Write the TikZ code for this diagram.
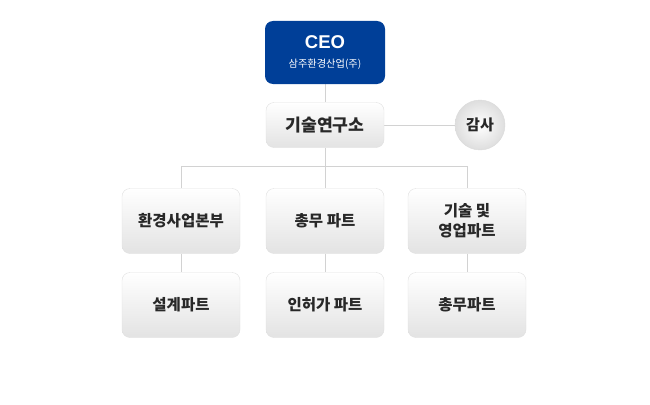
\documentclass[tikz,border=0pt]{standalone}
\usepackage{fontspec}
\newfontfamily\kr{Noto Sans CJK KR}
\setmainfont{Liberation Sans}
\definecolor{ceoblue}{RGB}{0,63,152}
\definecolor{linegray}{RGB}{210,210,210}
\definecolor{txtgray}{RGB}{40,40,40}
\usetikzlibrary{backgrounds}

\begin{document}
\begin{tikzpicture}[x=1pt,y=-1pt,
    box/.style={rounded corners=8pt,draw=black!12,top color=white,bottom color=black!11,
      minimum width=118pt,minimum height=65pt,align=center,text=txtgray,
      font=\kr\bfseries\fontsize{15.5}{20}\selectfont},
    wire/.style={linegray,line width=0.8pt}]
    \useasboundingbox (0,0) rectangle (650,404);
    \node[rounded corners=8pt,fill=ceoblue,minimum width=120pt,minimum height=63pt,
      text=white,align=center,inner sep=0pt] (ceo) at (325,52.5)
      {{\bfseries\fontsize{18.5}{20}\selectfont CEO}\\[7pt]{\kr\fontsize{10.2}{11}\selectfont 삼주환경산업(주)}};
    \node[box,minimum height=45pt,font=\kr\bfseries\fontsize{17.2}{20}\selectfont] (lab) at (325,125) {기술연구소};
    \node[circle,draw=black!14,inner color=white,outer color=black!13,minimum size=50pt,
      inner sep=0pt,text=txtgray,font=\kr\bfseries\fontsize{15}{17}\selectfont] (audit) at (480,125) {감사};
    % 본부 / 파트
    \node[box] (env) at (181,221) {환경사업본부};
    \node[box] (adm) at (325,221) {총무 파트};
    \node[box] (tec) at (467,221) {기술 및\\영업파트};
    \node[box] (des) at (181,305) {설계파트};
    \node[box] (per) at (325,305) {인허가 파트};
    \node[box] (gen) at (467,305) {총무파트};
    \begin{scope}[on background layer]
      \draw[wire] (ceo.south) -- (lab.north);
      \draw[wire] (lab.east) -- (audit.west);
      \draw[wire] (lab.south) -- (adm.north);
      \draw[wire] (env.north) -- ++(0,-21.5) -| (tec.north);
      \draw[wire] (env.south) -- (des.north);
      \draw[wire] (adm.south) -- (per.north);
      \draw[wire] (tec.south) -- (gen.north);
    \end{scope}
\end{tikzpicture}
\end{document}
